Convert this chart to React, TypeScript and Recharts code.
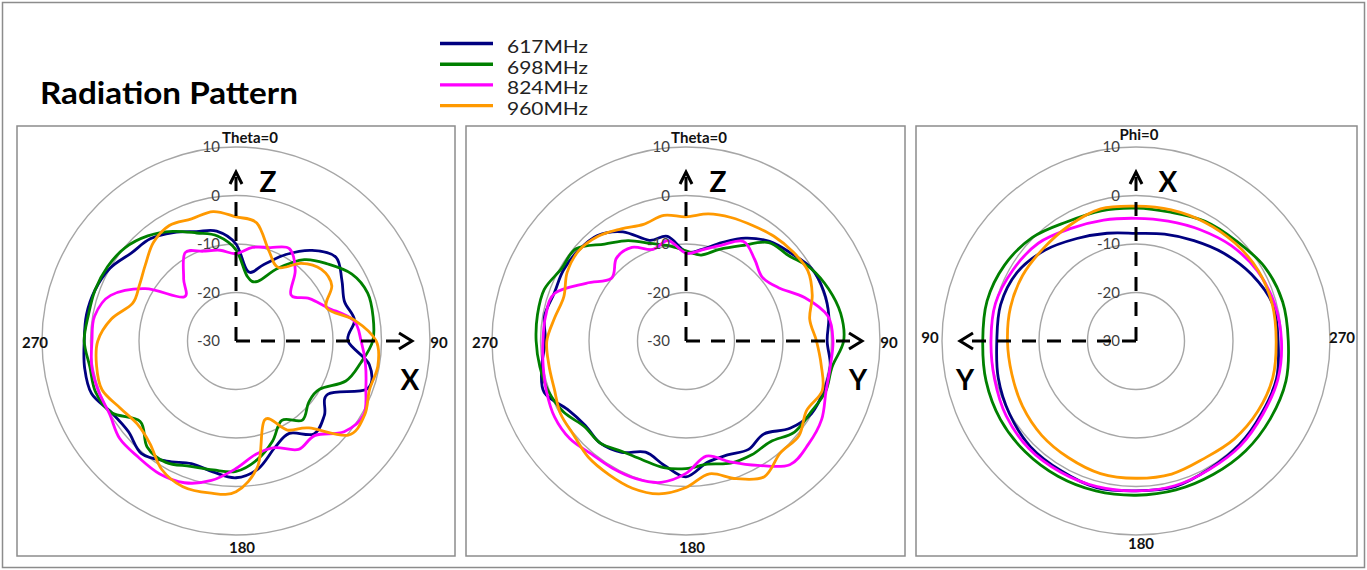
import React from 'react';
import { RadarChart, Radar, PolarGrid, PolarAngleAxis, PolarRadiusAxis } from 'recharts';

const FONT = 'Lato, "Open Sans", "DejaVu Sans", sans-serif';

// frequencies plotted in every cut
const FREQS = ['617MHz', '698MHz', '824MHz', '960MHz'];
const KEYS = ['f617', 'f698', 'f824', 'f960'];
const COLORS = ['#000080', '#008000', '#ff00ff', '#ff9900'];

// radial scale (dB)
const GAIN_DOMAIN: [number, number] = [-30, 10];

// sample angles (deg)
const ANGLES_10 = [0, 10, 20, 30, 40, 50, 60, 70, 80, 90, 100, 110, 120, 130, 140, 150, 160, 170,
  180, 190, 200, 210, 220, 230, 240, 250, 260, 270, 280, 290, 300, 310, 320, 330, 340, 350];
const ANGLES_15 = [0, 15, 30, 45, 60, 75, 90, 105, 120, 135, 150, 165,
  180, 195, 210, 225, 240, 255, 270, 285, 300, 315, 330, 345];

// XZ cut (Theta sweep, Phi=0)
const XZ_617 = [-10, -15.5, -13.2, -9.4, -5.6, -3.1, -4.8, -6.2, -5.2, -6.9, -2.1, -1.2, -8.1, -6.2, -5.0, -8.0, -6.6, -3.3,
  -1.8, -2.6, -3.1, -1.4, 0.3, -1.0, -0.4, 1.7, 1.7, 1.3, 1.3, 0.9, 0.0, -1.8, -2.5, -4.2, -6.0, -7.0];
const XZ_698 = [-11.2, -16.5, -16.9, -12.7, -8.1, -5.3, -2.4, -1.1, -1.3, -1.8, -3.9, -5.9, -10.1, -10.4, -8.7, -11.1, -8.0, -5.1,
  -3.1, -3.0, -2.5, -1.1, -1.5, -4.2, -0.4, 0.8, 0.6, 1.3, 0.9, 0.9, 0.6, -0.1, -1.7, -3.9, -6.3, -8.0];
const XZ_824 = [-12, -10.4, -9.5, -8.0, -11.0, -15.2, -12.5, -9.9, -5.4, -4.2, -2.9, -1.5, 0.4, -0.9, -4.6, -4.2, -6.6, -6.3,
  -3.7, -0.8, 1.1, 1.6, 1.3, 1.3, 0.1, 0.2, 0.2, -0.3, -0.4, -2.5, -8.4, -15.9, -13.2, -9.0, -10.3, -11.0];
const XZ_960 = [-4.4, -5.3, -10.2, -12.5, -9.1, -7.0, -7.2, -10.1, -5.2, -1.1, -0.3, -0.7, 0.6, 0.2, -6.6, -8.8, -12.7, -3.9,
  1.1, 1.8, 2.0, 0.6, -2.4, -3.4, -2.4, -0.6, -0.8, -1.5, -3.9, -7.3, -7.0, -5.6, -3.5, -2.5, -3.2, -2.9];

// YZ cut (Theta sweep, Phi=90)
const YZ_617 = [-11.6, -10.8, -8.4, -5.5, -3.2, -1.8, -0.1, 0.2, -0.1, -0.9, 0.2, 0.2, -0.1, -2.0, -5.0, -4.2, -5.0, -4.6,
  -2.0, -4.0, -5.6, -3.5, -2.5, -2.9, -1.8, 1.1, 0.2, -1.0, -0.4, -1.1, -0.8, -1.0, -1.6, -4.0, -7.9, -8.1];
const YZ_698 = [-11.4, -12.0, -9.9, -7.3, -3.5, -2.5, -0.2, 1.3, 2.4, 2.5, 0.6, 0.6, -0.4, -0.8, -2.9, -2.9, -3.2, -4.2,
  -3.7, -3.5, -3.9, -3.7, -2.5, -2.6, -0.8, 0.2, 0.6, 0.9, 1.1, 1.1, -0.3, -0.4, -3.9, -6.1, -8.6, -10.1];
const YZ_824 = [-11.9, -10.9, -9.0, -6.3, -8.0, -9.5, -8.0, -3.9, -0.3, 0.3, 0.2, 0.7, 2.3, 3.0, 3.3, -0.4, -3.5, -5.9,
  -2.7, -0.4, 0.2, 0.3, 0.4, 1.3, 1.3, 0.6, -0.1, -0.5, -0.6, -1.2, -6.2, -9.9, -7.7, -7.7, -9.9, -9.0];
const YZ_960 = [-4.4, -3.4, -2.9, -2.5, -1.8, -1.3, -1.0, -2.3, -4.1, -3.1, -1.7, -0.1, -1.3, 0.4, 0.2, 2.3, 0.2, -2.2,
  0.2, 2.0, 2.3, 1.8, 1.3, 0.2, -0.1, -1.1, -1.3, -1.3, -2.5, -3.2, -1.7, -1.1, -1.8, -3.3, -4.4, -3.7];

// XY cut (Phi sweep, Theta=90), angles run counter-clockwise on the plot
const XY_617 = [-7.8, -7.0, -5.6, -3.5, -1.7, -1.1, -1.3, -0.6, 0.1, 0.8, 0.9, 1.3,
  0.9, 1.1, 0.4, 0.2, -0.1, 0.0, -0.7, -0.8, -2.5, -4.4, -6.1, -7.2];
const XY_698 = [-2.6, -2.2, -1.6, 0.2, 1.3, 1.8, 1.6, 2.0, 2.3, 2.3, 2.2, 2.0,
  1.8, 1.8, 1.8, 2.0, 2.0, 2.0, 1.4, 1.3, 0.6, -0.8, -1.5, -2.5];
const XY_824 = [-4.7, -4.2, -3.2, -1.5, -0.7, 0.0, -0.1, 0.2, 0.9, 1.3, 1.2, 1.1,
  0.9, 0.9, 0.5, 0.5, 0.2, 0.3, 0.0, -0.4, -1.1, -2.2, -3.5, -4.4];
const XY_960 = [-2.2, -1.8, -2.5, -3.0, -3.0, -3.2, -3.5, -3.5, -3.0, -2.5, -2.2, -1.7,
  -1.7, -1.6, -2.0, -1.4, -1.0, -0.8, -1.1, -0.9, -0.9, -1.3, -1.7, -2.0];

const rowAt = (angles: number[], series: number[][], i: number) => {
  const row: Record<string, number> = { angle: angles[i] };
  KEYS.forEach((k, s) => { row[k] = series[s][i]; });
  return row;
};

// clockwise: categories in ascending order
const toRows = (angles: number[], series: number[][]) => angles.map((_, i) => rowAt(angles, series, i));

// counter-clockwise: same samples, walked backwards so the radar (which runs clockwise) mirrors them
const toRowsCcw = (angles: number[], series: number[][]) =>
  angles.map((_, j) => rowAt(angles, series, (angles.length - j) % angles.length));

type AngleLabel = { text: string; dx: number; dy: number };

const PANEL_TOP = 126;
const PANEL_H = 430;
const CY = 215;
const R = 194;

const PANELS = [
  {
    left: 17, width: 438, cx: 219, vert: 'Z', horiz: 'X', hDir: 1, hLabelDx: 174,
    data: toRows(ANGLES_10, [XZ_617, XZ_698, XZ_824, XZ_960]),
    labels: {
      0: { text: 'Theta=0', dx: 14, dy: 4 }, 90: { text: '90', dx: 1, dy: 7 },
      180: { text: '180', dx: 6, dy: 10 }, 270: { text: '270', dx: 1, dy: 7 },
    } as Record<number, AngleLabel>,
  },
  {
    left: 466, width: 439, cx: 220, vert: 'Z', horiz: 'Y', hDir: 1, hLabelDx: 172,
    data: toRows(ANGLES_10, [YZ_617, YZ_698, YZ_824, YZ_960]),
    labels: {
      0: { text: 'Theta=0', dx: 13, dy: 4 }, 90: { text: '90', dx: 1, dy: 7 },
      180: { text: '180', dx: 6, dy: 10 }, 270: { text: '270', dx: 1, dy: 7 },
    } as Record<number, AngleLabel>,
  },
  {
    left: 916, width: 441, cx: 220, vert: 'X', horiz: 'Y', hDir: -1, hLabelDx: -171,
    data: toRowsCcw(ANGLES_15, [XY_617, XY_698, XY_824, XY_960]),
    labels: {
      0: { text: 'Phi=0', dx: 3, dy: 1 }, 90: { text: '90', dx: -4, dy: 2 },
      180: { text: '180', dx: 5, dy: 6 }, 270: { text: '270', dx: 4, dy: 2 },
    } as Record<number, AngleLabel>,
  },
];

// closed Catmull-Rom through the radar vertices, like a smoothed Excel radar line
function smoothClosed(pts: { x: number; y: number }[]) {
  const n = pts.length;
  if (!n) return '';
  let d = `M${pts[0].x},${pts[0].y}`;
  for (let i = 0; i < n; i++) {
    const p0 = pts[(i - 1 + n) % n];
    const p1 = pts[i];
    const p2 = pts[(i + 1) % n];
    const p3 = pts[(i + 2) % n];
    const c1x = p1.x + (p2.x - p0.x) / 6;
    const c1y = p1.y + (p2.y - p0.y) / 6;
    const c2x = p2.x - (p3.x - p1.x) / 6;
    const c2y = p2.y - (p3.y - p1.y) / 6;
    d += ` C${c1x},${c1y} ${c2x},${c2y} ${p2.x},${p2.y}`;
  }
  return d + ' Z';
}

const SmoothLine = (props: any) => (
  <path d={smoothClosed(props.points)} fill="none" stroke={props.stroke} strokeWidth={2.8} strokeLinejoin="round" />
);

const RadiusTick = (props: any) => {
  const { x, y, payload } = props;
  return (
    <text x={x - 16} y={y + 5} textAnchor="end" fontSize={15} fill="#404040" fontFamily={FONT}>
      {payload.value}
    </text>
  );
};

const makeAngleTick = (labels: Record<number, AngleLabel>) => (props: any) => {
  const { x, y, payload } = props;
  const l = labels[payload.value];
  if (!l) return <g />;
  return (
    <text x={x + l.dx} y={y + l.dy} textAnchor="middle" fontSize={15} fontWeight={700} fill="#111" fontFamily={FONT}>
      {l.text}
    </text>
  );
};

// dashed coordinate arrows drawn over the plot
function AxisArrows({ cx, cy, vert, horiz, hDir, hLabelDx }: any) {
  const tipY = cy - 169;
  const tipX = cx + hDir * 176;
  const dash = { stroke: '#000', strokeWidth: 3, strokeDasharray: '14 11', fill: 'none' };
  const head = { stroke: '#000', strokeWidth: 3, fill: 'none', strokeLinejoin: 'miter' as const };
  return (
    <svg width="100%" height="100%" style={{ position: 'absolute', left: 0, top: 0, pointerEvents: 'none' }}>
      <line x1={cx} y1={cy} x2={cx} y2={tipY + 4} {...dash} />
      <line x1={cx} y1={cy} x2={tipX - hDir * 4} y2={cy} {...dash} />
      <polyline points={`${cx - 6},${tipY + 12} ${cx},${tipY} ${cx + 6},${tipY + 12}`} {...head} />
      <polyline points={`${tipX - hDir * 13},${cy - 8} ${tipX},${cy} ${tipX - hDir * 13},${cy + 8}`} {...head} />
      <text x={cx + 32} y={cy - 149} textAnchor="middle" fontSize={28} fontWeight={700} fontFamily={FONT} fill="#000">
        {vert}
      </text>
      <text x={cx + hLabelDx} y={cy + 49} textAnchor="middle" fontSize={28} fontWeight={700} fontFamily={FONT} fill="#000">
        {horiz}
      </text>
    </svg>
  );
}

function PolarPanel({ panel }: { panel: (typeof PANELS)[number] }) {
  return (
    <div style={{ position: 'absolute', left: panel.left, top: PANEL_TOP, width: panel.width, height: PANEL_H }}>
      <RadarChart
        width={panel.width}
        height={PANEL_H}
        data={panel.data}
        cx={panel.cx}
        cy={CY}
        outerRadius={R}
        startAngle={90}
        endAngle={-270}
        margin={{ top: 0, right: 0, bottom: 0, left: 0 }}
      >
        <PolarGrid gridType="circle" radialLines={false} stroke="#a6a6a6" strokeWidth={1.4} />
        <PolarAngleAxis dataKey="angle" axisLine={false} tickLine={false} tick={makeAngleTick(panel.labels)} />
        <PolarRadiusAxis
          angle={90}
          type="number"
          domain={GAIN_DOMAIN}
          tickCount={5}
          axisLine={false}
          tickLine={false}
          tick={RadiusTick}
        />
        {KEYS.map((k, i) => (
          <Radar
            key={k}
            name={FREQS[i]}
            dataKey={k}
            stroke={COLORS[i]}
            fill="none"
            dot={false}
            shape={SmoothLine}
            isAnimationActive={false}
          />
        ))}
      </RadarChart>
      <AxisArrows cx={panel.cx} cy={CY} vert={panel.vert} horiz={panel.horiz} hDir={panel.hDir} hLabelDx={panel.hLabelDx} />
    </div>
  );
}

export default function App() {
  return (
    <div style={{ position: 'absolute', left: 0, top: 0, width: 1367, height: 570, background: '#fff', fontFamily: FONT }}>
      <svg width={1367} height={570} style={{ position: 'absolute', left: 0, top: 0 }}>
        <rect x={2.5} y={2.5} width={1362} height={565} fill="none" stroke="#8c8c8c" strokeWidth={1.5} />
        <text x={40} y={104} fontSize={30} fontWeight={700} fill="#000" fontFamily={FONT}
          textLength={258} lengthAdjust="spacingAndGlyphs">
          Radiation Pattern
        </text>
        {FREQS.map((f, i) => {
          const y = 43.5 + i * 20.7;
          return (
            <g key={f}>
              <line x1={440} x2={493} y1={y} y2={y} stroke={COLORS[i]} strokeWidth={3.4} />
              <text x={507} y={y + 9.3} fontSize={17} fill="#222" fontFamily={FONT}
                textLength={81} lengthAdjust="spacingAndGlyphs">
                {f}
              </text>
            </g>
          );
        })}
        {PANELS.map((p) => (
          <rect key={p.left} x={p.left} y={PANEL_TOP} width={p.width} height={PANEL_H} fill="none" stroke="#8c8c8c" strokeWidth={1.5} />
        ))}
      </svg>
      {PANELS.map((p) => (
        <PolarPanel key={p.left} panel={p} />
      ))}
    </div>
  );
}
